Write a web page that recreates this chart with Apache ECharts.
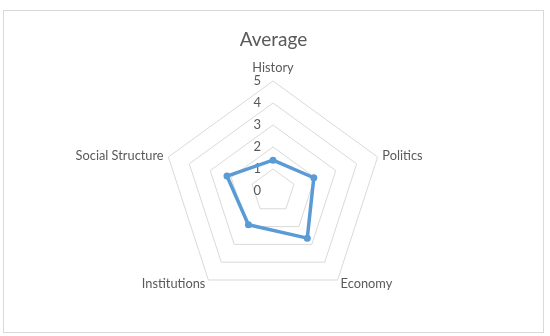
<!DOCTYPE html>
<html>
<head>
<meta charset="utf-8">
<script src="https://cdn.jsdelivr.net/npm/echarts@6/dist/echarts.min.js"></script>
<style>
    html, body { margin: 0; padding: 0; background: #fff; }
    #box {
        position: absolute; left: 3px; top: 10px;
        width: 539px; height: 321px;
        border: 1px solid #d9d9d9;
    }
    #chart { width: 100%; height: 100%; }
</style>
</head>
<body>
<div id="box"><div id="chart"></div></div>
<script>
    // chart data (clockwise from the top)
    const titleText = 'Average';
    const categories = ['History', 'Politics', 'Economy', 'Institutions', 'Social Structure'];
    const averageValues = [1.4, 1.95, 2.65, 1.9, 2.2];
    const axisMax = 5;

    let myChart = echarts.init(document.getElementById('chart'));

    // echarts radar goes counter-clockwise, so walk the lists backwards after the first one
    let order = [0];
    for (let i = categories.length - 1; i > 0; i--) {
        order.push(i);
    }

    let indicators = order.map(function (idx, i) {
        let ind = { name: categories[idx], min: 0, max: axisMax };
        if (i === 0) {
            ind.axisLabel = {
                show: true,
                color: '#595959',
                fontSize: 13,
                fontFamily: 'Lato',
                margin: 12
            };
        }
        return ind;
    });
    let values = order.map(function (idx) {
        return averageValues[idx];
    });

    let option = {
        animation: false,
        title: {
            text: titleText,
            left: 'center',
            top: 14,
            textStyle: {
                color: '#595959',
                fontSize: 19,
                fontWeight: 'normal',
                fontFamily: 'Lato'
            }
        },
        radar: {
            center: [269, 180],
            radius: 110,
            startAngle: 90,
            splitNumber: 5,
            shape: 'polygon',
            nameGap: 5,
            axisName: {
                color: '#595959',
                fontSize: 12.8,
                fontFamily: 'Lato'
            },
            axisLine: { show: false },
            axisTick: { show: false },
            axisLabel: { show: false },
            splitLine: {
                lineStyle: { color: '#d9d9d9', width: 1 }
            },
            splitArea: { show: false },
            indicator: indicators
        },
        series: [{
            name: titleText,
            type: 'radar',
            symbol: 'circle',
            symbolSize: 7,
            lineStyle: { color: '#5b9bd5', width: 3.5 },
            itemStyle: { color: '#5b9bd5' },
            data: [{ value: values, name: titleText }]
        }]
    };
    myChart.setOption(option);
</script>
</body>
</html>
